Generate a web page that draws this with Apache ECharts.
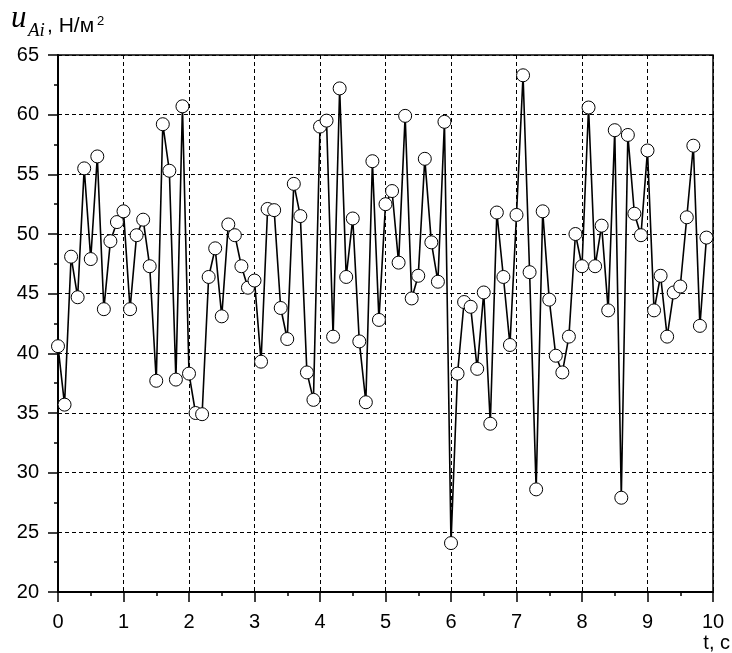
<!DOCTYPE html>
<html>
<head>
<meta charset="utf-8">
<script src="https://cdn.jsdelivr.net/npm/echarts@6/dist/echarts.min.js"></script>
<style>
  html, body { margin: 0; padding: 0; background: #fff; }
  #chart { width: 732px; height: 653px; }
</style>
</head>
<body>
<div id="chart"></div>
<script>
// sample times, s
const times = [
  0.0, 0.1, 0.2, 0.3, 0.4, 0.5, 0.6, 0.7, 0.8, 0.9,
  1.0, 1.1, 1.2, 1.3, 1.4, 1.5, 1.6, 1.7, 1.8, 1.9,
  2.0, 2.1, 2.2, 2.3, 2.4, 2.5, 2.6, 2.7, 2.8, 2.9,
  3.0, 3.1, 3.2, 3.3, 3.4, 3.5, 3.6, 3.7, 3.8, 3.9,
  4.0, 4.1, 4.2, 4.3, 4.4, 4.5, 4.6, 4.7, 4.8, 4.9,
  5.0, 5.1, 5.2, 5.3, 5.4, 5.5, 5.6, 5.7, 5.8, 5.9,
  6.0, 6.1, 6.2, 6.3, 6.4, 6.5, 6.6, 6.7, 6.8, 6.9,
  7.0, 7.1, 7.2, 7.3, 7.4, 7.5, 7.6, 7.7, 7.8, 7.9,
  8.0, 8.1, 8.2, 8.3, 8.4, 8.5, 8.6, 8.7, 8.8, 8.9,
  9.0, 9.1, 9.2, 9.3, 9.4, 9.5, 9.6, 9.7, 9.8, 9.9
];

// u_Ai, N/m2
const uAi = [
  40.6, 35.7, 48.1, 44.7, 55.5, 47.9, 56.5, 43.7, 49.4, 51.0,
  51.9, 43.7, 49.9, 51.2, 47.3, 37.7, 59.2, 55.3, 37.8, 60.7,
  38.3, 35.0, 34.9, 46.4, 48.8, 43.1, 50.8, 49.9, 47.3, 45.5,
  46.1, 39.3, 52.1, 52.0, 43.8, 41.2, 54.2, 51.5, 38.4, 36.1,
  59.0, 59.5, 41.4, 62.2, 46.4, 51.3, 41.0, 35.9, 56.1, 42.8,
  52.5, 53.6, 47.6, 59.9, 44.6, 46.5, 56.3, 49.3, 46.0, 59.4,
  24.1, 38.3, 44.3, 43.9, 38.7, 45.1, 34.1, 51.8, 46.4, 40.7,
  51.6, 63.3, 46.8, 28.6, 51.9, 44.5, 39.8, 38.4, 41.4, 50.0,
  47.3, 60.6, 47.3, 50.7, 43.6, 58.7, 27.9, 58.3, 51.7, 49.9,
  57.0, 43.6, 46.5, 41.4, 45.1, 45.6, 51.4, 57.4, 42.3, 49.7
];

// axis ranges: min, max, step
const xRange = [0, 10, 1];
const yRange = [20, 65, 5];

const chart = echarts.init(document.getElementById("chart"));

const labelFont = {
  color: "#000",
  fontSize: 20,
  fontFamily: "Liberation Sans"
};

const gridDash = {
  show: true,
  lineStyle: { color: "#000", width: 1, type: [4, 3] }
};

const tickStyle = { color: "#000", width: 1.5 };

let option = {
  animation: false,
  backgroundColor: "#fff",
  grid: {
    left: 58,
    right: 19,
    top: 55,
    bottom: 61,
    show: true,
    borderColor: "#000",
    borderWidth: 1.5
  },
  xAxis: {
    type: "value",
    min: xRange[0],
    max: xRange[1],
    interval: xRange[2],
    axisLine: { onZero: false, lineStyle: { color: "#000", width: 2 } },
    axisTick: { length: 10, lineStyle: tickStyle },
    minorTick: { show: true, splitNumber: 2, length: 4, lineStyle: tickStyle },
    axisLabel: { ...labelFont, margin: 20 },
    splitLine: gridDash
  },
  yAxis: {
    type: "value",
    min: yRange[0],
    max: yRange[1],
    interval: yRange[2],
    axisLine: { show: true, lineStyle: { color: "#000", width: 2 } },
    axisTick: { show: true, length: 10, lineStyle: tickStyle },
    minorTick: { show: true, splitNumber: 2, length: 4, lineStyle: tickStyle },
    axisLabel: { ...labelFont, margin: 19 },
    splitLine: gridDash
  },
  graphic: [
    { type: "text", x: 11, y: 19, style: { text: "u", font: 'italic 31px "Liberation Serif"', fill: "#000", verticalAlign: "middle" } },
    { type: "text", x: 28, y: 31, style: { text: "Ai", font: 'italic 19px "Liberation Serif"', fill: "#000", verticalAlign: "middle" } },
    { type: "text", x: 47, y: 26, style: { text: ", Н/м", font: '21px "Liberation Sans"', fill: "#000", verticalAlign: "middle" } },
    { type: "text", x: 97, y: 21, style: { text: "2", font: '13px "Liberation Sans"', fill: "#000", verticalAlign: "middle" } },
    { type: "text", x: 730, y: 643, style: { text: "t, c", font: '20px "Liberation Sans"', fill: "#000", align: "right", verticalAlign: "middle" } }
  ],
  series: [
    {
      type: "line",
      data: times.map((t, i) => [t, uAi[i]]),
      symbol: "circle",
      symbolSize: 13,
      showAllSymbol: true,
      lineStyle: { color: "#000", width: 1.6 },
      itemStyle: { color: "#fff", borderColor: "#000", borderWidth: 1 },
      z: 5
    }
  ]
};

chart.setOption(option);
</script>
</body>
</html>
